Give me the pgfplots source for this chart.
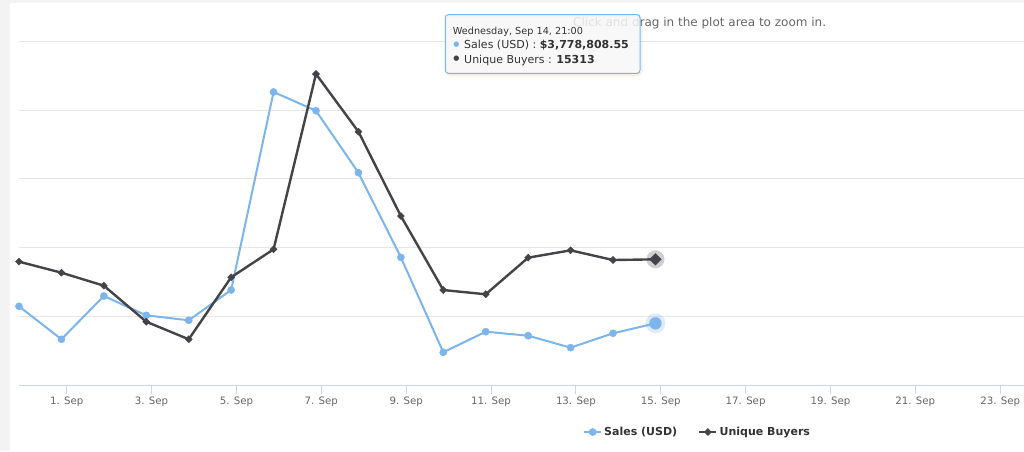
\documentclass[border=0pt]{standalone}
\usepackage{fontspec}
\setmainfont{DejaVu Sans}
\usepackage{pgfplots}
\pgfplotsset{compat=1.18}

\definecolor{salesc}{HTML}{7CB5EC}
\definecolor{buyc}{HTML}{434348}
\definecolor{gridc}{HTML}{E6E6E6}
\definecolor{axisc}{HTML}{CCD6EB}
\definecolor{labc}{HTML}{666666}
\definecolor{legc}{HTML}{333333}
\definecolor{bgc}{HTML}{F3F3F3}
\definecolor{tipbg}{HTML}{F7F7F7}

\pgfplotstableread{
x y
-0.125 1.148
0.875 0.669
1.875 1.298
2.875 1.017
3.875 0.945
4.875 1.385
5.875 4.263
6.875 3.991
7.875 3.090
8.875 1.860
9.875 0.480
10.875 0.779
11.875 0.721
12.875 0.547
13.875 0.756
14.875 0.901
}\salestable

\pgfplotstableread{
x y
-0.125 1.797
0.875 1.637
1.875 1.448
2.875 0.924
3.875 0.669
4.875 1.570
5.875 1.977
6.875 4.525
7.875 3.686
8.875 2.461
9.875 1.385
10.875 1.323
11.875 1.855
12.875 1.962
13.875 1.821
14.875 1.831
}\buyerstable

\begin{document}
\begin{tikzpicture}[x=1pt,y=1pt]
\path[use as bounding box] (0,0) rectangle (1024,451);
\fill[bgc] (0,0) rectangle (1024,451);
\fill[white, rounded corners=4pt] (9.5,-20) rectangle (1044,448.3);

\node[anchor=base west, inner sep=0pt, text=labc, font=\fontsize{12}{14}\selectfont] at (573,424.3) {Click and drag in the plot area to zoom in.};

\begin{axis}[
  at={(19pt,65.7pt)}, anchor=south west,
  scale only axis, width=1004.5pt, height=344pt,
  xmin=-0.125, xmax=23.55, ymin=0, ymax=5,
  clip=false,
  axis x line*=bottom, axis y line*=left,
  x axis line style={draw=axisc, line width=1pt, -},
  y axis line style={draw=none},
  xtick={1,3,5,7,9,11,13,15,17,19,21,23},
  xticklabels={1. Sep,3. Sep,5. Sep,7. Sep,9. Sep,11. Sep,13. Sep,15. Sep,17. Sep,19. Sep,21. Sep,23. Sep},
  xtick style={draw=axisc, line width=1pt},
  tick align=outside, major tick length=9pt,
  xticklabel style={font=\fontsize{10.2}{12}\selectfont, text=labc, anchor=north, inner sep=0pt, yshift=-2pt},
  ytick={1,2,3,4,5}, yticklabels={}, ytick style={draw=none},
  ymajorgrids, major grid style={draw=gridc, line width=1pt},
  legend style={at={(axis description cs:0.6755,-0.1358)}, anchor=center, draw=none, fill=none,
    font=\fontsize{11}{13}\selectfont\bfseries, text=legc,
    /tikz/every even column/.append style={column sep=19pt}},
  legend columns=2, legend cell align=left,
]
\addplot[salesc, forget plot, only marks, mark=*, mark size=10pt, mark options={fill=salesc, fill opacity=0.25, draw opacity=0}] coordinates {(14.875,0.901)};
\addplot[buyc, forget plot, only marks, mark=*, mark size=9pt, mark options={fill=buyc, fill opacity=0.25, draw opacity=0}] coordinates {(14.875,1.831)};

\addplot[salesc, line width=2pt, mark=*, mark size=3.6pt, mark options={solid, fill=salesc, draw=salesc, line width=0.4pt}] table[x=x,y=y] {\salestable};
\addlegendentry{Sales (USD)}
\addplot[buyc, line width=2.4pt, mark=square*, mark size=2.5pt, mark options={solid, rotate=45, fill=buyc, draw=buyc, line width=0.4pt}] table[x=x,y=y] {\buyerstable};
\addlegendentry{Unique Buyers}

\addplot[salesc, forget plot, only marks, mark=*, mark size=6pt, mark options={fill=salesc, draw=salesc, line width=0.2pt}] coordinates {(14.875,0.901)};
\addplot[buyc, forget plot, only marks, mark=square*, mark size=4.2pt, mark options={rotate=45, fill=buyc, draw=buyc, line width=0.2pt}] coordinates {(14.875,1.831)};
\end{axis}

% tooltip
\draw[black, opacity=0.06, line width=2pt, rounded corners=3pt] (446.8,376.2) rectangle (641.5,434.8);
\draw[draw=salesc, fill=tipbg, fill opacity=0.85, rounded corners=3pt, line width=1pt] (445.3,377.7) rectangle (640,436.3);
\node[anchor=base west, inner sep=0pt, text=legc, font=\fontsize{9.7}{11}\selectfont] at (452.7,417) {Wednesday, Sep 14, 21:00};
\node[anchor=center, inner sep=0pt, text=salesc, font=\fontsize{7}{8}\selectfont] at (456.5,406.5) {●};
\node[anchor=base west, inner sep=0pt, text=legc, font=\fontsize{11}{13}\selectfont] at (464,402.7) {Sales (USD) : \textbf{\$3,778,808.55}};
\node[anchor=center, inner sep=0pt, text=buyc, font=\fontsize{7}{8}\selectfont] at (456.5,392) {●};
\node[anchor=base west, inner sep=0pt, text=legc, font=\fontsize{11}{13}\selectfont] at (464,388) {Unique Buyers : \textbf{15313}};
\end{tikzpicture}
\end{document}
